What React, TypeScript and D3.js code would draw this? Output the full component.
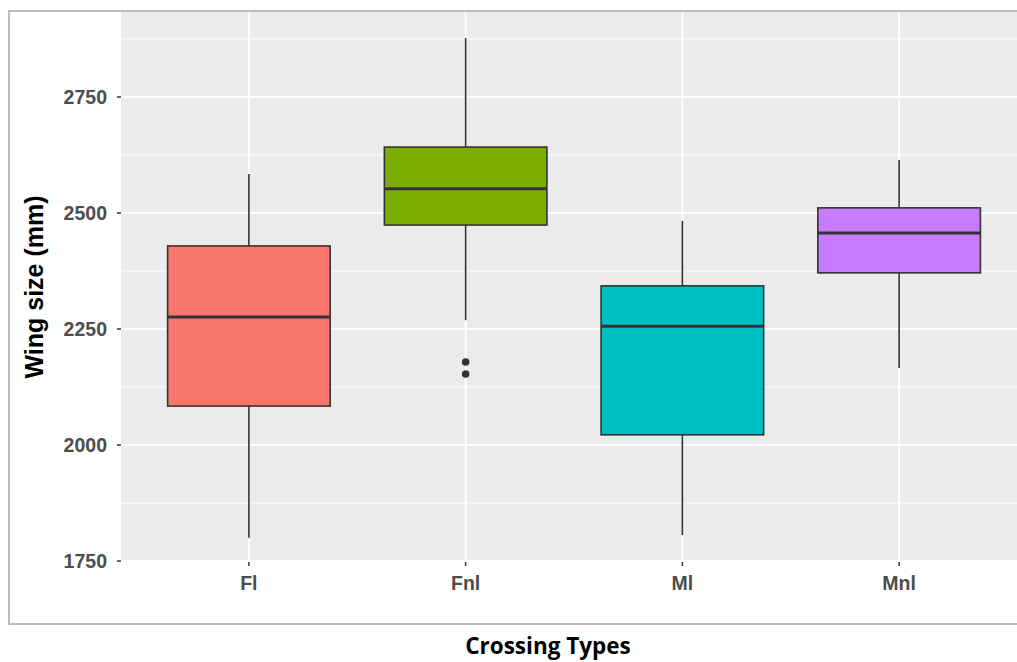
import React from 'react';
import * as d3 from 'd3';

// crossing types and box stats
const categories = ['Fl', 'Fnl', 'Ml', 'Mnl'];
const colors = ['#F8766D', '#7CAE00', '#00BFC4', '#C77CFF'];
const whiskerLow = [1800, 2269, 1806, 2166];
const q1 = [2084, 2474, 2022, 2371];
const median = [2276, 2552, 2256, 2457];
const q3 = [2429, 2642, 2343, 2511];
const whiskerHigh = [2584, 2877, 2483, 2614];
const outliers = [[], [2179, 2153], [], []];

const yTicks = [1750, 2000, 2250, 2500, 2750];
const yMinor = [1875, 2125, 2375, 2625, 2875];

const width = 1017;
const height = 662;
const panel = { left: 121, top: 12, right: 1027, bottom: 562 };

export default function App() {
  const y = d3.scaleLinear().domain([1748, 2933]).range([panel.bottom, panel.top]);
  const x = d3.scaleBand().domain(categories).range([panel.left, panel.right]).paddingOuter(0.09);
  // centre of each category, as in ggplot's discrete scale
  const cx = (c) => x(c) + x.bandwidth() / 2;
  const boxW = x.bandwidth() * 0.75;

  const tickFont = { fontFamily: 'Liberation Sans, Arial, sans-serif', fontWeight: 'bold', fontSize: 19.5, fill: '#4d4d4d' };

  return (
    <svg width={width} height={height} style={{ position: 'absolute', left: 0, top: 0, background: '#fff' }}>
      {/* outer frame */}
      <rect x={9} y={11} width={1100} height={613} fill="none" stroke="#a6a6a6" strokeWidth={1.5} />

      {/* panel */}
      <rect x={panel.left} y={panel.top} width={panel.right - panel.left} height={panel.bottom - panel.top} fill="#ebebeb" />
      {yMinor.map((v) => (
        <line key={'mn' + v} x1={panel.left} x2={panel.right} y1={y(v)} y2={y(v)} stroke="#fff" strokeWidth={1} />
      ))}
      {yTicks.map((v) => (
        <line key={'mj' + v} x1={panel.left} x2={panel.right} y1={y(v)} y2={y(v)} stroke="#fff" strokeWidth={2} />
      ))}
      {categories.map((c) => (
        <line key={'vx' + c} x1={cx(c)} x2={cx(c)} y1={panel.top} y2={panel.bottom} stroke="#fff" strokeWidth={2} />
      ))}

      {/* boxes */}
      {categories.map((c, i) => {
        const xc = cx(c);
        return (
          <g key={c}>
            <line x1={xc} x2={xc} y1={y(whiskerHigh[i])} y2={y(q3[i])} stroke="#333" strokeWidth={1.6} />
            <line x1={xc} x2={xc} y1={y(q1[i])} y2={y(whiskerLow[i])} stroke="#333" strokeWidth={1.6} />
            <rect x={xc - boxW / 2} y={y(q3[i])} width={boxW} height={y(q1[i]) - y(q3[i])}
              fill={colors[i]} stroke="#333" strokeWidth={1.6} />
            <line x1={xc - boxW / 2} x2={xc + boxW / 2} y1={y(median[i])} y2={y(median[i])} stroke="#333" strokeWidth={3} />
            {outliers[i].map((o, j) => (
              <circle key={j} cx={xc} cy={y(o)} r={3.8} fill="#333" />
            ))}
          </g>
        );
      })}

      {/* y axis */}
      {yTicks.map((v) => (
        <g key={'yt' + v}>
          <line x1={panel.left - 4} x2={panel.left} y1={y(v)} y2={y(v)} stroke="#333" strokeWidth={1.5} />
          <text x={panel.left - 14} y={y(v)} dy="0.36em" textAnchor="end" style={tickFont}>{v}</text>
        </g>
      ))}
      {/* x axis */}
      {categories.map((c) => (
        <g key={'xt' + c}>
          <line x1={cx(c)} x2={cx(c)} y1={panel.bottom} y2={panel.bottom + 4} stroke="#333" strokeWidth={1.5} />
          <text x={cx(c)} y={panel.bottom + 28} textAnchor="middle" style={tickFont}>{c}</text>
        </g>
      ))}

      <text transform={`translate(43, ${(panel.top + panel.bottom) / 2}) rotate(-90)`} textAnchor="middle"
        style={{ fontFamily: 'Liberation Sans, Arial, sans-serif', fontWeight: 'bold', fontSize: 25, fill: '#000' }}>
        Wing size (mm)
      </text>

      <text x={548} y={654} textAnchor="middle"
        style={{ fontFamily: 'Open Sans, sans-serif', fontWeight: 'bold', fontSize: 22.5, fill: '#000' }}>
        Crossing Types
      </text>
    </svg>
  );
}
